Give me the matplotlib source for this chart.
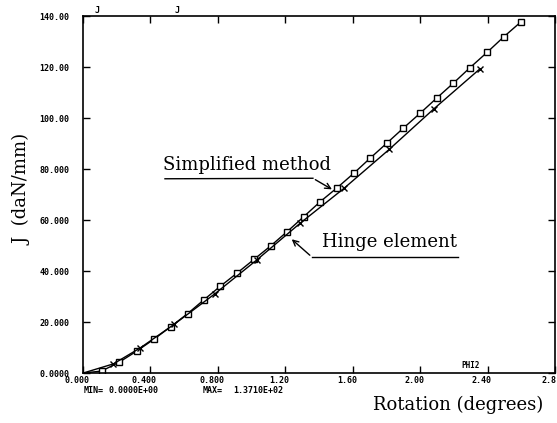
import matplotlib
matplotlib.use('Agg')
import matplotlib.pyplot as plt
import matplotlib.transforms as mtransforms

# Simplified method (squares)
simp_x = [0.0, 0.11, 0.213, 0.318, 0.421, 0.52, 0.62, 0.716, 0.813, 0.913, 1.014, 1.113,
          1.209, 1.308, 1.406, 1.507, 1.606, 1.701, 1.800, 1.898, 1.997, 2.096, 2.194,
          2.293, 2.396, 2.495, 2.594]
simp_y = [0.0, 0.8, 4.2, 8.6, 13.3, 18.2, 23.3, 28.7, 34.0, 39.2, 44.6, 49.9,
          55.4, 61.3, 67.2, 72.7, 78.4, 84.2, 90.1, 96.0, 101.8, 107.8, 113.6,
          119.7, 125.8, 131.9, 137.6]

# Hinge element (crosses)
hinge_x = [0.0, 0.18, 0.34, 0.54, 0.782, 1.029, 1.286, 1.55, 1.815, 2.078, 2.353]
hinge_y = [0.0, 3.6, 9.9, 19.1, 31.1, 44.3, 58.7, 72.6, 87.7, 103.5, 119.3]

x_ticks = [0.0, 0.4, 0.8, 1.2, 1.6, 2.0, 2.4, 2.8]
x_labels = ['0.000', '0.400', '0.800', '1.20', '1.60', '2.00', '2.40', '2.8']
y_ticks = [0, 20, 40, 60, 80, 100, 120, 140]
y_labels = ['0.0000', '20.000', '40.000', '60.000', '80.000', '100.00', '120.00', '140.00']

serif = 'DejaVu Serif'
mono = 'DejaVu Sans Mono'

fig = plt.figure(figsize=(5.57, 4.23), dpi=100)
ax = fig.add_axes([0.149, 0.118, 0.848, 0.844])

ax.plot(simp_x, simp_y, color='black', lw=1.0, marker='s', markersize=4,
        markerfacecolor='white', markeredgecolor='black', markeredgewidth=1.0,
        markevery=slice(1, None))
ax.plot(hinge_x, hinge_y, color='black', lw=1.0, marker='x', markersize=5,
        markeredgewidth=1.0, markevery=slice(1, None))

ax.set_xlim(0, 2.8)
ax.set_ylim(0, 140)
ax.set_xticks(x_ticks)
ax.set_xticklabels(x_labels, fontfamily=mono, fontsize=6, fontweight='bold')
ax.set_yticks(y_ticks)
ax.set_yticklabels(y_labels, fontfamily=mono, fontsize=6, fontweight='bold')
ax.tick_params(direction='in', length=5, width=1, top=True, right=True)
ax.tick_params(axis='x', pad=2)
ax.tick_params(axis='y', pad=10)
shift = mtransforms.ScaledTranslation(-6 / 100, 0, fig.dpi_scale_trans)
for lab in ax.get_xticklabels():
    lab.set_transform(lab.get_transform() + shift)
for sp in ax.spines.values():
    sp.set_linewidth(1.2)

# annotations
ax.text(0.474, 79.6, 'Simplified method', family=serif, fontsize=13)
ax.plot([0.486, 1.363], [76.2, 76.4], color='black', lw=1.0)
ax.annotate('', xy=(1.49, 71.5), xytext=(1.363, 76.4),
            arrowprops=dict(arrowstyle='->', color='black', lw=1.0))
ax.text(1.416, 49.4, 'Hinge element', family=serif, fontsize=13)
ax.plot([1.357, 2.222], [45.5, 45.5], color='black', lw=1.0)
ax.annotate('', xy=(1.225, 53.2), xytext=(1.357, 45.5),
            arrowprops=dict(arrowstyle='->', color='black', lw=1.0))

ax.text(2.30, 3.1, 'PHI2', family=mono, fontsize=5.5, fontweight='bold',
        ha='center', va='center')

fig.text(0.174, 0.976, 'J', family=mono, fontsize=6, fontweight='bold', ha='center', va='center')
fig.text(0.318, 0.976, 'J', family=mono, fontsize=6, fontweight='bold', ha='center', va='center')

fig.text(0.151, 0.078, 'MIN=', family=mono, fontsize=6, fontweight='bold', va='center')
fig.text(0.194, 0.078, '0.0000E+00', family=mono, fontsize=6, fontweight='bold', va='center')
fig.text(0.364, 0.078, 'MAX=', family=mono, fontsize=6, fontweight='bold', va='center')
fig.text(0.418, 0.078, '1.3710E+02', family=mono, fontsize=6, fontweight='bold', va='center')

fig.text(0.04, 0.553, 'J  (daN/mm)', family=serif, fontsize=13, rotation=90,
         ha='center', va='center')
fig.text(0.823, 0.043, 'Rotation (degrees)', family=serif, fontsize=13,
         ha='center', va='center')

fig.savefig('out.png', dpi=100)
